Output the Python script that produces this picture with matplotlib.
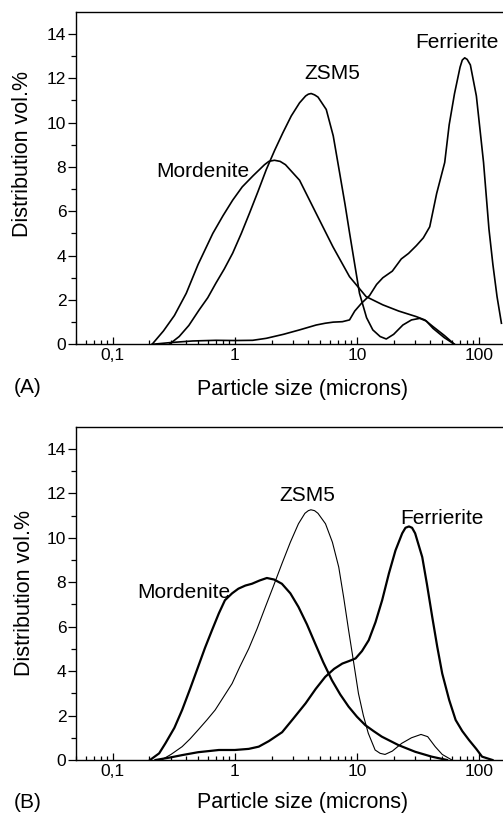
import matplotlib
matplotlib.use("Agg")
from matplotlib import pyplot as plt
from matplotlib.ticker import LogLocator, FixedLocator, NullFormatter, FuncFormatter

plt.rcParams['font.family'] = ['Liberation Sans', 'DejaVu Sans']

# ---- panel A ----
mord_a_x = [0.21, 0.26, 0.32, 0.40, 0.50, 0.66, 0.80, 0.96, 1.15, 1.41, 1.75, 1.9, 2.11, 2.35, 2.6,
            3.39, 4.64, 6.36, 8.7, 11.9, 16.3, 22, 30.6, 36, 42, 52, 63]
mord_a_y = [0, 0.6, 1.3, 2.3, 3.6, 5.0, 5.8, 6.5, 7.1, 7.6, 8.1, 8.25, 8.3, 8.25, 8.1,
            7.4, 5.9, 4.4, 3.05, 2.15, 1.78, 1.5, 1.25, 1.1, 0.8, 0.4, 0]

zsm_a_x = [0.29, 0.35, 0.42, 0.51, 0.60, 0.70, 0.82, 0.96, 1.13, 1.32, 1.55, 1.81, 2.12, 2.47, 2.9,
           3.39, 3.8, 4.0, 4.22, 4.5, 4.8, 5.61, 6.4, 7.22, 8.0, 8.71, 9.6, 10.5, 12.0, 13.5, 15.5,
           17.4, 20, 23.8, 28, 32.7, 37, 42, 52, 63]
zsm_a_y = [0, 0.35, 0.85, 1.55, 2.1, 2.76, 3.4, 4.11, 5.0, 5.92, 6.9, 7.88, 8.75, 9.53, 10.3,
           10.89, 11.2, 11.28, 11.31, 11.25, 11.15, 10.59, 9.4, 7.73, 6.3, 5.02, 3.6, 2.3, 1.2, 0.65, 0.35,
           0.24, 0.45, 0.87, 1.1, 1.17, 1.05, 0.72, 0.3, 0]

ferr_a_x = [0.21, 0.3, 0.45, 0.7, 1.0, 1.4, 1.81, 2.5, 3.39, 4.64, 5.5, 6.4, 7.6, 8.7, 9.6,
            10.9, 12.7, 14.5, 16.3, 19.5, 23.1, 26.5, 30.7, 35, 39.5, 45, 52.4, 57, 63, 70,
            73, 76.4, 80, 85, 95.2, 109, 120.7, 130, 140.6, 152.7]
ferr_a_y = [0, 0.08, 0.15, 0.18, 0.17, 0.18, 0.27, 0.45, 0.65, 0.87, 0.95, 1.0, 1.02, 1.1, 1.5,
            1.85, 2.2, 2.7, 3.0, 3.3, 3.85, 4.1, 4.45, 4.8, 5.3, 6.8, 8.2, 9.9, 11.3, 12.5,
            12.82, 12.92, 12.85, 12.6, 11.2, 8.2, 5.2, 3.6, 2.15, 0.95]

# ---- panel B ----
mord_b_x = [0.202, 0.24, 0.27, 0.32, 0.37, 0.43, 0.50, 0.57, 0.65, 0.74, 0.83, 0.95, 1.07, 1.22,
            1.38, 1.6, 1.83, 2.1, 2.43, 2.85, 3.32, 3.9, 4.55, 5.3, 6.24, 7.3, 8.55, 10, 11.7,
            13.7, 16.0, 21.9, 30, 41, 54.7]
mord_b_y = [0, 0.3, 0.75, 1.45, 2.25, 3.2, 4.19, 5.05, 5.84, 6.6, 7.19, 7.5, 7.71, 7.85,
            7.93, 8.08, 8.19, 8.12, 7.93, 7.5, 6.89, 6.1, 5.24, 4.4, 3.59, 2.95, 2.40, 1.95, 1.57,
            1.3, 1.05, 0.67, 0.37, 0.15, 0]

zsm_b_x = [0.25, 0.3, 0.37, 0.43, 0.5, 0.59, 0.69, 0.8, 0.95, 1.1, 1.30, 1.52, 1.78, 2.08, 2.43,
           2.85, 3.32, 3.75, 4.0, 4.2, 4.5, 4.8, 5.53, 6.3, 7.1, 7.8, 8.55, 9.4, 10.3, 11.3, 12.4,
           14.1, 15.5, 17, 19.5, 23.3, 28, 33.5, 38, 43.8, 50, 60]
zsm_b_y = [0, 0.25, 0.6, 0.95, 1.35, 1.8, 2.25, 2.8, 3.44, 4.2, 5.01, 5.9, 6.89, 7.85, 8.83,
           9.8, 10.63, 11.1, 11.22, 11.26, 11.22, 11.1, 10.63, 9.8, 8.68, 7.3, 5.84, 4.4, 2.99, 2.0, 1.2,
           0.45, 0.3, 0.25, 0.4, 0.75, 1.0, 1.15, 1.05, 0.6, 0.25, 0]

ferr_b_x = [0.224, 0.3, 0.37, 0.5, 0.74, 1.0, 1.3, 1.57, 1.9, 2.44, 3.0, 3.8, 4.6, 5.5, 6.5, 7.6,
            8.6, 9.75, 11, 12.5, 14.2, 16.1, 18.3, 20.7, 23.5, 25, 26.7, 28.3, 30, 34.3, 37.5, 41.4,
            45.5, 50, 57, 64.4, 73, 82.8, 95, 106, 129]
ferr_b_y = [0, 0.12, 0.22, 0.35, 0.45, 0.45, 0.5, 0.6, 0.85, 1.25, 1.85, 2.55, 3.2, 3.74, 4.1, 4.34,
            4.45, 4.57, 4.9, 5.39, 6.2, 7.19, 8.4, 9.43, 10.2, 10.45, 10.51, 10.45, 10.2, 9.13, 7.9, 6.44,
            5.1, 3.89, 2.7, 1.80, 1.3, 0.90, 0.5, 0.15, 0]

names = ["Mordenite", "ZSM5", "Ferrierite"]
label_pos_a = [(0.543, 7.78), (6.32, 12.2), (66.2, 13.62)]
label_pos_b = [(0.385, 7.52), (3.92, 11.9), (49.8, 10.86)]
xticks = [0.1, 1, 10, 100]
xticklabels = ["0,1", "1", "10", "100"]

fig = plt.figure(figsize=(5.03, 8.13), dpi=100)


def setup(ax):
    ax.set_xscale("log")
    ax.set_xlim(0.05, 200)
    ax.set_ylim(0, 15)
    ax.xaxis.set_major_locator(FixedLocator(xticks))
    ax.xaxis.set_major_formatter(FuncFormatter(lambda v, p: xticklabels[xticks.index(v)] if v in xticks else ""))
    ax.xaxis.set_minor_locator(LogLocator(base=10, subs=range(2, 10), numticks=20))
    ax.xaxis.set_minor_formatter(NullFormatter())
    ax.set_yticks(range(0, 15, 2))
    ax.set_yticks(range(1, 15, 2), minor=True)
    ax.tick_params(axis="x", which="major", direction="in", length=4.8, width=0.9, labelsize=12.5, pad=3)
    ax.tick_params(axis="x", which="minor", direction="in", length=3.1, width=0.9)
    ax.tick_params(axis="y", which="major", direction="out", length=5.5, width=0.9, labelsize=12.5, pad=1.5)
    ax.tick_params(axis="y", which="minor", direction="out", length=3.5, width=0.9)
    for s in ax.spines.values():
        s.set_linewidth(1.0)


ax1 = fig.add_axes([0.1511, 0.5765, 0.8742, 0.4091])
setup(ax1)
ax1.plot(mord_a_x, mord_a_y, 'k-', linewidth=1.2)
ax1.plot(zsm_a_x, zsm_a_y, 'k-', linewidth=1.2)
ax1.plot(ferr_a_x, ferr_a_y, 'k-', linewidth=1.2)
for n, (px, py) in zip(names, label_pos_a):
    ax1.text(px, py, n, fontsize=15, ha="center", va="center")

ax2 = fig.add_axes([0.1511, 0.0652, 0.8742, 0.41])
setup(ax2)
ax2.plot(mord_b_x, mord_b_y, 'k-', linewidth=1.6)
ax2.plot(zsm_b_x, zsm_b_y, 'k-', linewidth=0.8)
ax2.plot(ferr_b_x, ferr_b_y, 'k-', linewidth=1.6)
for n, (px, py) in zip(names, label_pos_b):
    ax2.text(px, py, n, fontsize=15, ha="center", va="center")

# axis titles and panel letters (baselines)
fig.text(302.5 / 503, 1 - 395 / 813, "Particle size (microns)", fontsize=15.5, ha="center", va="baseline")
fig.text(302.5 / 503, 1 - 808.3 / 813, "Particle size (microns)", fontsize=15.5, ha="center", va="baseline")
fig.text(23 / 503, 1 - 153.7 / 813, "Distribution vol.%", fontsize=15.5, rotation=90, ha="center", va="center")
fig.text(25 / 503, 1 - 592.5 / 813, "Distribution vol.%", fontsize=15.5, rotation=90, ha="center", va="center")
fig.text(27.8 / 503, 1 - 392.7 / 813, "(A)", fontsize=15, ha="center", va="baseline")
fig.text(27.5 / 503, 1 - 808 / 813, "(B)", fontsize=15, ha="center", va="baseline")

fig.savefig("out.png", dpi=100)
